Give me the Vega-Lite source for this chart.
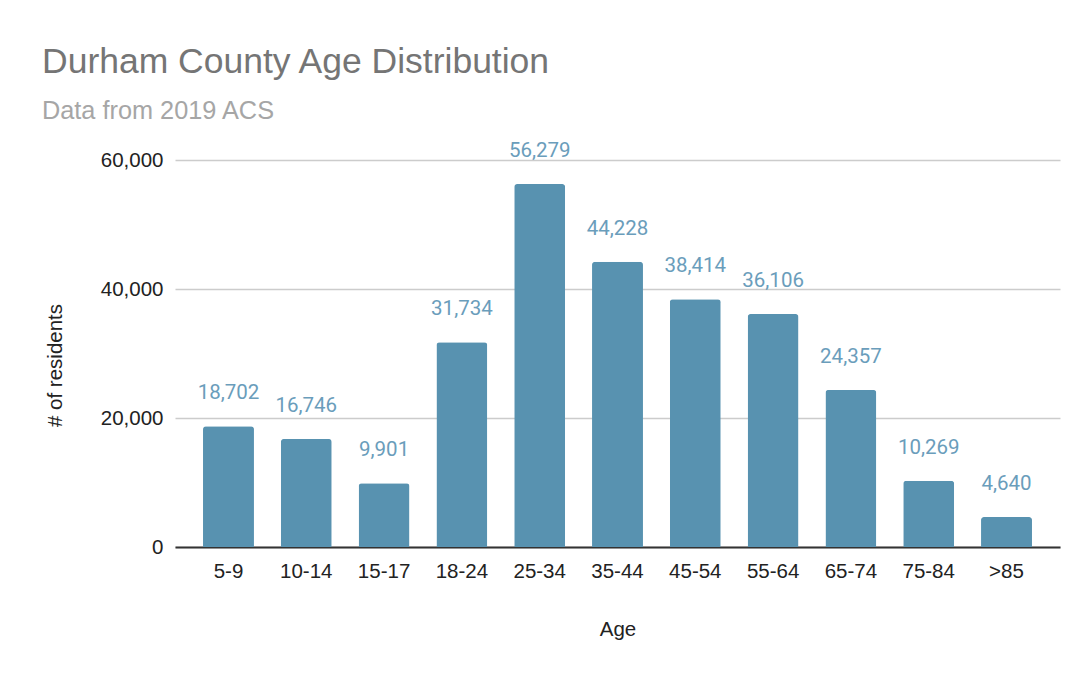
{
  "$schema": "https://vega.github.io/schema/vega-lite/v6.json",
  "autosize": {"type": "none"},
  "padding": {"left": 175, "top": 160, "right": 29, "bottom": 128},
  "width": 885,
  "height": 387,
  "background": "white",
  "title": {
    "text": "Durham County Age Distribution",
    "subtitle": "Data from 2019 ACS",
    "anchor": "start",
    "frame": "group",
    "dx": -133,
    "font": "Liberation Sans",
    "fontSize": 35.5,
    "fontWeight": "normal",
    "color": "#757575",
    "subtitleFont": "Liberation Sans",
    "subtitleFontSize": 25.3,
    "subtitleColor": "#a6a6a6",
    "subtitlePadding": 18,
    "offset": 17
  },
  "data": {
    "values": [
      {"age": "5-9", "residents": 18702},
      {"age": "10-14", "residents": 16746},
      {"age": "15-17", "residents": 9901},
      {"age": "18-24", "residents": 31734},
      {"age": "25-34", "residents": 56279},
      {"age": "35-44", "residents": 44228},
      {"age": "45-54", "residents": 38414},
      {"age": "55-64", "residents": 36106},
      {"age": "65-74", "residents": 24357},
      {"age": "75-84", "residents": 10269},
      {"age": ">85", "residents": 4640}
    ]
  },
  "encoding": {
    "x": {
      "field": "age",
      "type": "nominal",
      "sort": null,
      "title": "Age",
      "scale": {"paddingInner": 0.345, "paddingOuter": 0.36},
      "axis": {
        "labelAngle": 0,
        "ticks": false,
        "domainColor": "#333333",
        "domainWidth": 2,
        "labelFont": "Liberation Sans",
        "labelFontSize": 20.5,
        "labelColor": "#222222",
        "labelPadding": 14,
        "titleFont": "Liberation Sans",
        "titleFontSize": 20.5,
        "titleFontWeight": "normal",
        "titleColor": "#222222",
        "titlePadding": 38
      }
    },
    "y": {
      "field": "residents",
      "type": "quantitative",
      "title": "# of residents",
      "scale": {"domain": [0, 60000], "nice": false},
      "axis": {
        "values": [0, 20000, 40000, 60000],
        "format": ",d",
        "ticks": false,
        "domain": false,
        "gridColor": "#cccccc",
        "gridWidth": 1.5,
        "labelFont": "Liberation Sans",
        "labelFontSize": 20.5,
        "labelColor": "#222222",
        "labelPadding": 12,
        "titleFont": "Liberation Sans",
        "titleFontSize": 20.5,
        "titleFontWeight": "normal",
        "titleColor": "#222222",
        "titlePadding": 35,
        "titleY": 205
      }
    }
  },
  "layer": [
    {
      "mark": {"type": "bar", "color": "#5892b0", "cornerRadiusTopLeft": 3, "cornerRadiusTopRight": 3}
    },
    {
      "mark": {"type": "text", "baseline": "alphabetic", "dy": -27, "font": "Roboto", "fontSize": 20.5, "color": "#6a9dbb"},
      "encoding": {"text": {"field": "residents", "type": "quantitative", "format": ",d"}}
    }
  ],
  "config": {"view": {"stroke": null}}
}
